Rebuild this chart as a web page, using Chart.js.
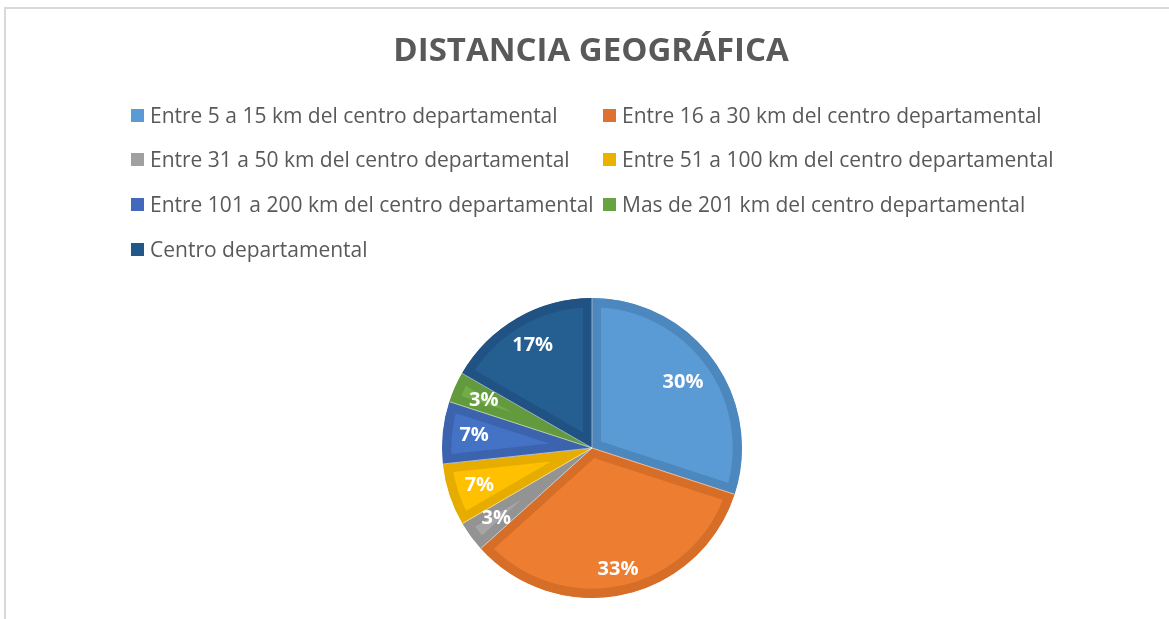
<!DOCTYPE html>
<html>
<head>
<meta charset="utf-8">
<script src="https://cdn.jsdelivr.net/npm/chart.js@4/dist/chart.umd.min.js"></script>
<style>
html,body{margin:0;padding:0;background:#fff;}
#wrap{position:relative;width:1169px;height:619px;}
canvas{display:block;}
</style>
</head>
<body>
<div id="wrap"><canvas id="c" width="1169" height="619"></canvas></div>
<script>
const titleText = "DISTANCIA GEOGRÁFICA";
const categories = [
  "Entre 5 a 15 km del centro departamental",
  "Entre 16 a 30 km del centro departamental",
  "Entre 31 a 50 km del centro departamental",
  "Entre 51 a 100 km del centro departamental",
  "Entre 101 a 200 km del centro departamental",
  "Mas de 201 km del centro departamental",
  "Centro departamental"
];
const shares = [30, 33.3, 3.3, 6.7, 6.7, 3.3, 16.7];
const faceColors = ["#5B9BD5", "#ED7D31", "#A5A5A5", "#FFC000", "#4472C4", "#70AD47", "#255E91"];
const edgeColors = ["#4C87BE", "#D66E28", "#939393", "#E6AC00", "#3B63AE", "#639A3D", "#205283"];
const legendColors = ["#5B9BD5", "#E07030", "#A0A0A0", "#EBB000", "#4169BC", "#68A342", "#225889"];

const frameAndText = {
  id: "frameAndText",
  beforeDraw(chart) {
    const ctx = chart.ctx;
    ctx.save();
    ctx.fillStyle = "#fff";
    ctx.fillRect(0, 0, chart.width, chart.height);
    ctx.strokeStyle = "#D9D9D9";
    ctx.lineWidth = 2;
    ctx.beginPath();
    ctx.moveTo(5, chart.height + 2);
    ctx.lineTo(5, 8);
    ctx.lineTo(chart.width + 2, 8);
    ctx.stroke();
    // title
    ctx.fillStyle = "#595959";
    ctx.font = "bold 33px 'Open Sans', sans-serif";
    ctx.textAlign = "center";
    ctx.textBaseline = "alphabetic";
    ctx.fillText(titleText, 591, 61);
    // legend grid
    ctx.font = "21px 'Open Sans', sans-serif";
    ctx.textAlign = "left";
    ctx.textBaseline = "middle";
    const cols = [131, 603];
    const rowY = [116, 160, 205, 250];
    chart.data.labels.forEach((lab, i) => {
      const x = cols[i % 2];
      const y = rowY[Math.floor(i / 2)];
      ctx.fillStyle = legendColors[i];
      ctx.fillRect(x, y - 7, 13, 13);
      ctx.fillStyle = "#595959";
      ctx.fillText(lab, x + 19, y + 1);
    });
    ctx.restore();
  },
  afterDatasetsDraw(chart) {
    const ctx = chart.ctx;
    const meta = chart.getDatasetMeta(0);
    const data = chart.data.datasets[0].data;
    const total = data.reduce((a, b) => a + b, 0);
    ctx.save();
    // thin light separators between slices
    ctx.strokeStyle = "rgba(255,255,255,0.55)";
    ctx.lineWidth = 1;
    meta.data.forEach((arc) => {
      const p = arc.getProps(["x", "y", "startAngle", "outerRadius"], true);
      ctx.beginPath();
      ctx.moveTo(p.x, p.y);
      ctx.lineTo(p.x + Math.cos(p.startAngle) * p.outerRadius, p.y + Math.sin(p.startAngle) * p.outerRadius);
      ctx.stroke();
    });
    ctx.fillStyle = "#fff";
    ctx.font = "bold 20px 'Open Sans', sans-serif";
    ctx.textAlign = "center";
    ctx.textBaseline = "middle";
    meta.data.forEach((arc, i) => {
      const p = arc.getProps(["x", "y", "startAngle", "endAngle", "outerRadius"], true);
      const mid = (p.startAngle + p.endAngle) / 2;
      const rr = p.outerRadius * (i === 1 ? 0.83 : (i === 0 ? 0.75 : 0.79));
      const pct = Math.round(data[i] / total * 100) + "%";
      ctx.fillText(pct, p.x + Math.cos(mid) * rr, p.y + Math.sin(mid) * rr);
    });
    ctx.restore();
  }
};

new Chart(document.getElementById("c"), {
  type: "pie",
  data: {
    labels: categories,
    datasets: [{
      data: shares,
      backgroundColor: faceColors,
      borderColor: edgeColors,
      borderWidth: 9,
      borderAlign: "inner",
      hoverOffset: 0
    }]
  },
  options: {
    responsive: false,
    animation: false,
    events: [],
    layout: { padding: { top: 298, bottom: 21, left: 15, right: 0 } },
    plugins: {
      legend: { display: false },
      title: { display: false },
      tooltip: { enabled: false }
    }
  },
  plugins: [frameAndText]
});
</script>
</body>
</html>
